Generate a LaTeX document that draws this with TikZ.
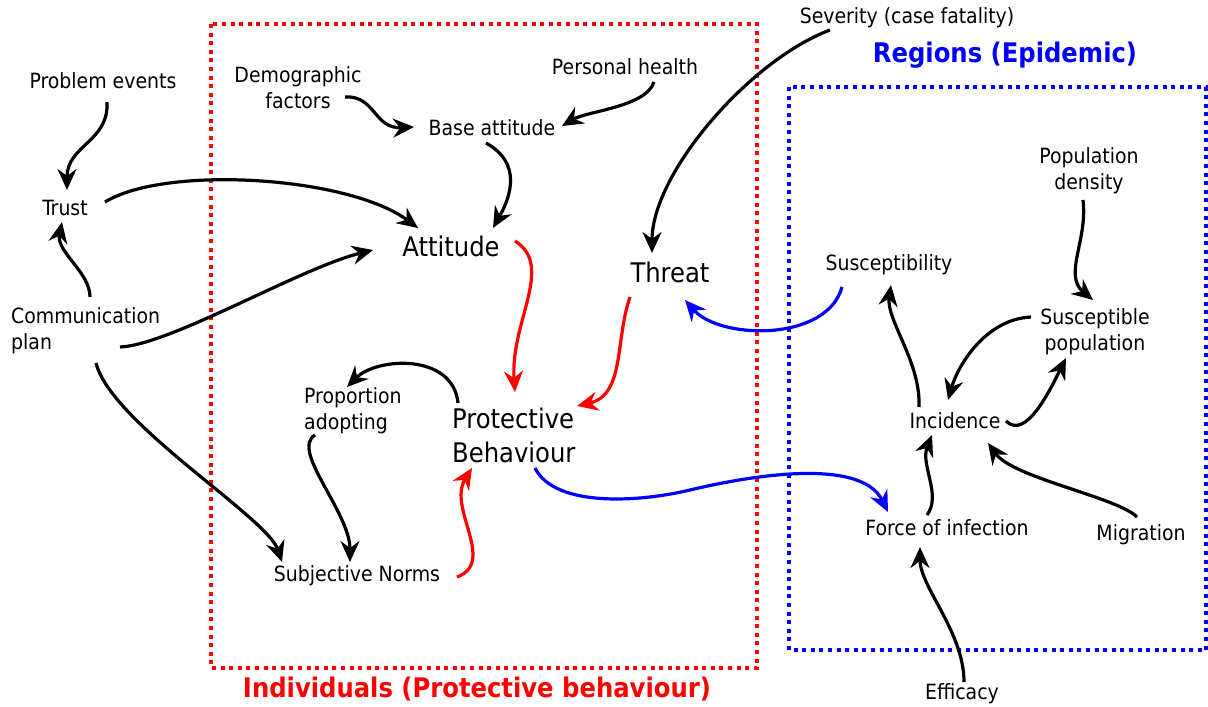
\documentclass[tikz,border=0pt]{standalone}
\usepackage{fontspec}
\setmainfont{DejaVu Sans Condensed}
\usetikzlibrary{arrows.meta,calc}
\definecolor{pred}{RGB}{255,0,0}
\definecolor{pblue}{RGB}{0,0,255}
\begin{document}
\begin{tikzpicture}[x=1pt,y=-1pt,
  lbl/.style={inner sep=0pt, font=\fontsize{21}{26}\selectfont, align=center},
  lbll/.style={inner sep=0pt, font=\fontsize{21}{26}\selectfont, align=left, anchor=west},
  big/.style={inner sep=0pt, font=\fontsize{27}{34}\selectfont, align=left},
  ttl/.style={inner sep=0pt, font=\fontsize{27}{34}\selectfont\bfseries},
  arr/.style={line width=3.2pt, -{Stealth[length=21pt,width=19pt,inset=7pt]}},
  redarr/.style={arr, pred},
  bluearr/.style={arr, pblue},
  dotbox/.style={line width=3.5pt, dash pattern=on 4pt off 4.6pt}
]
\useasboundingbox (0,0) rectangle (1208,707);
\fill[white] (0,0) rectangle (1208,707);

% boxes
\draw[dotbox, pred] (211,24) rectangle (757,668);
\draw[dotbox, pblue] (789,87) rectangle (1206,650);

% titles
\node[ttl, text=pblue] (treg) at (1005,55) {Regions (Epidemic)};
\node[ttl, text=pred] (tind) at (477,689) {Individuals (Protective behaviour)};

% nodes
\node[lbl] (pe) at (103,81) {Problem events};
\node[lbl] (demo) at (298,88) {Demographic\\factors};
\node[lbl] (ph) at (625,67) {Personal health};
\node[lbl] (sev) at (907,18) {Severity (case fatality)};
\node[lbl] (bas) at (492,128) {Base attitude};
\node[lbl] (trust) at (65,208) {Trust};
\node[big] (att) at (451,246) {Attitude};
\node[big] (threat) at (670,272) {Threat};
\node[lbl] (susc) at (889,265) {Susceptibility};
\node[lbl] (popd) at (1089,171) {Population\\density};
\node[lbl] (susp) at (1095,332) {Susceptible\\population};
\node[lbll] (cp) at (11,331) {Communication\\plan};
\node[lbll] (prop) at (304,411) {Proportion\\adopting};
\node[big, anchor=west] (pb) at (452,435) {Protective\\Behaviour};
\node[lbl] (inc) at (955,421) {Incidence};
\node[lbl] (foi) at (947,528) {Force of infection};
\node[lbl] (mig) at (1141,535) {Migration};
\node[lbl] (sn) at (357,576) {Subjective Norms};
\node[lbl] (eff) at (962,694) {Efficacy};

% black arrows
\draw[arr] ([shift={(4,21)}]pe.center) .. controls +(2,40) and +(0,-45) .. ([shift={(2,-18)}]trust.center);
\draw[arr] ([shift={(79,-34)}]cp.west) .. controls +(0,-25) and +(-6,30) .. ([shift={(-3,14)}]trust.center);
\draw[arr] ([shift={(40,-6)}]trust.center) .. controls +(60,-37) and +(-70,-52) .. ([shift={(-33,-18)}]att.center);
\draw[arr] ([shift={(109,16)}]cp.west) .. controls +(50,-2) and +(-73,18) .. ([shift={(-78,4)}]att.center);
\draw[arr] ([shift={(85,32)}]cp.west) .. controls +(15,60) and +(-15,-45) .. ([shift={(-75,-14)}]sn.center);
\draw[arr] ([shift={(47,9)}]demo.center) .. controls +(30,-2) and +(-40,2) .. ([shift={(-78,-1)}]bas.center);
\draw[arr] ([shift={(29,15)}]ph.center) .. controls +(-8,25) and +(25,-15) .. ([shift={(70,-2)}]bas.center);
\draw[arr] ([shift={(-6,15)}]bas.center) .. controls +(36,20) and +(18,-32) .. ([shift={(42,-18)}]att.center);
\draw[arr] ([shift={(6,-32)}]pb.west) .. controls +(-5,-50) and +(30,-30) .. ([shift={(43,-24)}]prop.west);
\draw[arr] ([shift={(11,24)}]prop.west) .. controls +(-25,15) and +(0,-50) .. ([shift={(-7,-14)}]sn.center);
\draw[arr] ([shift={(-77,12)}]sev.center) .. controls +(-80,30) and +(0,-80) .. ([shift={(-18,-19)}]threat.center);
\draw[arr] ([shift={(-6,29)}]popd.center) .. controls +(5,40) and +(-30,-25) .. ([shift={(-2,-32)}]susp.center);
\draw[arr] ([shift={(-64,-15)}]susp.center) .. controls +(-45,2) and +(10,-35) .. ([shift={(-7,-21)}]inc.center);
\draw[arr] ([shift={(51,0)}]inc.center) .. controls +(20,20) and +(-15,30) .. ([shift={(-29,26)}]susp.center);
\draw[arr] ([shift={(-36,-14)}]inc.center) .. controls +(2,-45) and +(-5,35) .. ([shift={(2,20)}]susc.center);
\draw[arr] ([shift={(-20,-13)}]foi.center) .. controls +(15,-20) and +(-12,30) .. ([shift={(-23,14)}]inc.center);
\draw[arr] ([shift={(-4,-18)}]mig.center) .. controls +(-20,-20) and +(25,35) .. ([shift={(33,22)}]inc.center);
\draw[arr] ([shift={(2,-12)}]eff.center) .. controls +(0,-50) and +(0,40) .. ([shift={(-27,19)}]foi.center);

% red arrows
\draw[redarr] ([shift={(64,-5)}]att.center) .. controls +(40,25) and +(-5,-70) .. ([shift={(63,-43)}]pb.west);
\draw[redarr] ([shift={(-40,25)}]threat.center) .. controls +(-15,43) and +(48,-11) .. ([shift={(125,-29)}]pb.west);
\draw[redarr] ([shift={(100,1)}]sn.center) .. controls +(40,-15) and +(-25,40) .. ([shift={(20,33)}]pb.west);

% blue arrows
\draw[bluearr] ([shift={(83,33)}]pb.west) .. controls +(20,40) and (640,502) .. (690,490)
  .. controls (740,478) and +(-28,-57) .. ([shift={(-59,-16)}]foi.center);
\draw[bluearr] ([shift={(-47,22)}]susc.center) .. controls +(-15,55) and +(35,40) .. ([shift={(15,28)}]threat.center);
\end{tikzpicture}
\end{document}
